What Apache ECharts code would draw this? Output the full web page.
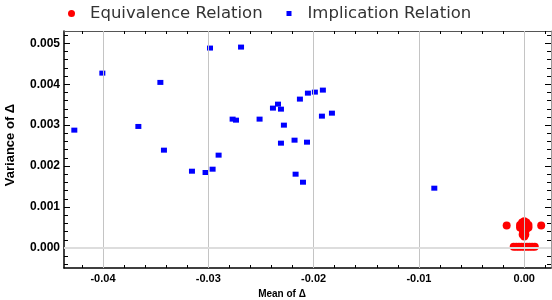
<!DOCTYPE html>
<html><head><meta charset="utf-8">
<script src="https://cdn.jsdelivr.net/npm/echarts@6/dist/echarts.min.js"></script>
<style>html,body{margin:0;padding:0;background:#fff}#c{width:552px;height:300px}</style>
</head><body><div id="c"></div>
<script>
// Data
const seriesNames = ['Equivalence Relation', 'Implication Relation'];

const equivX = [-0.00167, 0.00161,
  0, -0.0002, 0.0002,
  -0.0004, 0.0004, -0.0003, 0.0003, 0,
  -0.0004, 0.0004, -0.0002, 0.0002, 0,
  -0.0001, 0.0001, -0.00015, 0.0001, 0, 0,
  -0.001, -0.00075, -0.0005, -0.00025, 0, 0.00025, 0.0005, 0.00075, 0.001];
const equivY = [0.00055, 0.00055,
  0.00065, 0.00062, 0.00062,
  0.00056, 0.00056, 0.00054, 0.00054, 0.00055,
  0.0005, 0.0005, 0.00047, 0.00047, 0.00045,
  0.0004, 0.0004, 0.00033, 0.00033, 0.00028, 0.00036,
  0.00003, 0.00003, 0.00003, 0.00003, 0.00003, 0.00003, 0.00003, 0.00003, 0.00003];

const implX = [-0.04272, -0.04006, -0.03455, -0.03664, -0.03421, -0.03155, -0.02984, -0.02689,
  -0.03026, -0.02959, -0.02902, -0.02769, -0.02737, -0.02513, -0.02386, -0.02338, -0.02310,
  -0.02282, -0.02310, -0.02181, -0.02063, -0.02171, -0.02101, -0.02130, -0.02054, -0.01988,
  -0.01912, -0.01921, -0.01826, -0.00854];
const implY = [0.002878, 0.004271, 0.004044, 0.002968, 0.002389, 0.001875, 0.004883, 0.004907,
  0.001843, 0.001924, 0.002267, 0.003147, 0.003122, 0.003147, 0.003416, 0.003513, 0.003391,
  0.003000, 0.002560, 0.002633, 0.002584, 0.001802, 0.001606, 0.003636, 0.003782, 0.003807,
  0.003856, 0.003220, 0.003293, 0.001460];

const xRange = [-0.0437, 0.00254];
const yRange = [-0.00049, 0.0053];
const xMajorTicks = [-0.04, -0.03, -0.02, -0.01, 0];
const xMinorTicks = [-0.042, -0.038, -0.036, -0.034, -0.032, -0.028, -0.026, -0.024, -0.022,
  -0.018, -0.016, -0.014, -0.012, -0.008, -0.006, -0.004, -0.002, 0.002];
const yMajorTicks = [0, 0.001, 0.002, 0.003, 0.004, 0.005];
const yMinorTicks = [-0.0004, -0.0002, 0.0002, 0.0004, 0.0006, 0.0008, 0.0012, 0.0014, 0.0016,
  0.0018, 0.0022, 0.0024, 0.0026, 0.0028, 0.0032, 0.0034, 0.0036, 0.0038, 0.0042, 0.0044,
  0.0046, 0.0048, 0.0052];

const zip = (a, b) => a.map((v, i) => [v, b[i]]);
const xTickFont = {color: '#000', fontWeight: 'bold', fontSize: 11, fontFamily: 'Liberation Sans'};
const yTickFont = {color: '#000', fontWeight: 'bold', fontSize: 12, fontFamily: 'Liberation Sans'};

function xAxisDef(pos, ticks, len, opts) {
  return Object.assign({
    type: 'value', gridIndex: 0, position: pos, min: xRange[0], max: xRange[1],
    axisLine: {show: false, onZero: false},
    axisTick: {show: true, inside: true, length: len, customValues: ticks, lineStyle: {color: '#000', width: 1}},
    axisLabel: {show: false}, splitLine: {show: false}
  }, opts || {});
}
function yAxisDef(pos, ticks, len, opts) {
  return Object.assign({
    type: 'value', gridIndex: 0, position: pos, min: yRange[0], max: yRange[1],
    axisLine: {show: false, onZero: false},
    axisTick: {show: true, inside: true, length: len, customValues: ticks, lineStyle: {color: '#000', width: 1}},
    axisLabel: {show: false}, splitLine: {show: false}
  }, opts || {});
}

const chart = echarts.init(document.getElementById('c'), null, {renderer: 'canvas'});
chart.setOption({
  animation: false,
  backgroundColor: '#fff',
  grid: {left: 64, right: 1, top: 31, bottom: 32, containLabel: false, outerBoundsMode: 'none'},
  legend: [
    {data: [{name: seriesNames[0], icon: 'circle'}], left: 63, top: 0, itemWidth: 7, itemHeight: 7,
      textStyle: {fontFamily: 'DejaVu Sans', fontSize: 16.5, color: '#333', padding: [0, 0, 0, 10]}},
    {data: [{name: seriesNames[1], icon: 'rect'}], left: 281.5, top: 0, itemWidth: 5, itemHeight: 5,
      textStyle: {fontFamily: 'DejaVu Sans', fontSize: 16.5, color: '#333', padding: [0, 0, 0, 11]}}
  ],
  xAxis: [
    xAxisDef('bottom', xMajorTicks, 5, {
      axisLine: {show: true, onZero: false, lineStyle: {color: '#000', width: 1.5}},
      axisLabel: Object.assign({show: true, margin: 5, customValues: xMajorTicks,
        formatter: v => (v < 0 ? '-' : '') + Math.abs(v).toFixed(2)}, xTickFont),
      name: 'Mean of Δ', nameLocation: 'middle', nameGap: 21,
      nameTextStyle: {color: '#000', fontWeight: 'bold', fontSize: 10, fontFamily: 'Liberation Sans', padding: [0, 51, 0, 0]}
    }),
    xAxisDef('bottom', xMinorTicks, 3),
    xAxisDef('top', xMajorTicks, 5, {axisLine: {show: true, onZero: false, lineStyle: {color: '#555', width: 1}}}),
    xAxisDef('top', xMinorTicks, 3)
  ],
  yAxis: [
    yAxisDef('left', yMajorTicks, 6, {
      axisLine: {show: true, onZero: false, lineStyle: {color: '#000', width: 1.5}},
      axisLabel: Object.assign({show: true, margin: 4, customValues: yMajorTicks,
        formatter: v => v.toFixed(3)}, yTickFont),
      name: 'Variance of Δ', nameLocation: 'middle', nameGap: 47,
      nameTextStyle: {color: '#000', fontWeight: 'bold', fontSize: 13, fontFamily: 'Liberation Sans', padding: [0, 0, 0, 9]}
    }),
    yAxisDef('left', yMinorTicks, 4),
    yAxisDef('right', yMajorTicks, 6, {axisLine: {show: true, onZero: false, lineStyle: {color: '#999', width: 1}}}),
    yAxisDef('right', yMinorTicks, 4)
  ],
  series: [
    {
      name: 'gridlines', type: 'scatter', xAxisIndex: 0, yAxisIndex: 0, data: [], z: 1, silent: true,
      markLine: {
        silent: true, symbol: ['none', 'none'], label: {show: false}, animation: false,
        data: xMajorTicks.map(v => ({xAxis: v, lineStyle: {color: '#c4c4c4', width: 1, type: 'solid'}}))
          .concat(yMajorTicks.map(v => ({yAxis: v, lineStyle: {color: '#dcdcdc', width: 1.5, type: 'solid'}})))
      }
    },
    {
      name: seriesNames[0], type: 'scatter', xAxisIndex: 0, yAxisIndex: 0, z: 3,
      symbol: 'circle', symbolSize: 8, itemStyle: {color: '#ff0000', opacity: 1},
      data: zip(equivX, equivY)
    },
    {
      name: seriesNames[1], type: 'scatter', xAxisIndex: 0, yAxisIndex: 0, z: 3,
      symbol: 'rect', symbolSize: [6, 5], itemStyle: {color: '#0000ff', opacity: 1},
      data: zip(implX, implY)
    }
  ]
});
</script>
</body></html>
